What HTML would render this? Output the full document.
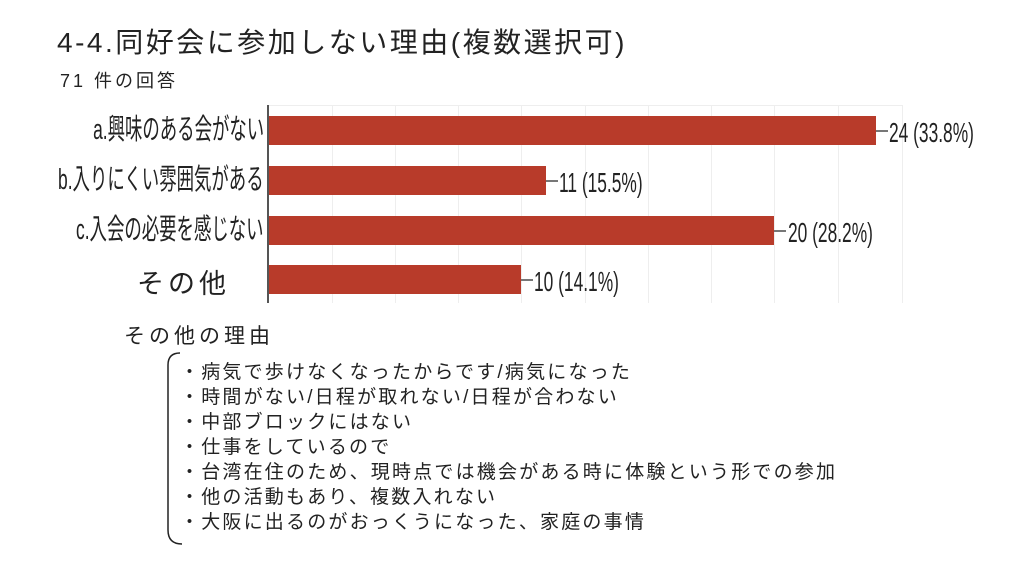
<!DOCTYPE html>
<html><head><meta charset="utf-8"><style>
body{margin:0;width:1024px;height:576px;background:#fff;position:relative;overflow:hidden;font-family:"Liberation Sans","Noto Sans CJK JP",sans-serif;color:#222}
.a{position:absolute;white-space:nowrap}
.bar{position:absolute;background:#b83b2a;height:29px;left:269px}
.lab{position:absolute;right:760px;font-size:29px;transform:scaleX(0.6);transform-origin:right center;white-space:nowrap;line-height:29px;color:#222}
.val{position:absolute;font-size:28px;transform:scaleX(0.62);transform-origin:left center;white-space:nowrap;line-height:29px;color:#222}
.tick{position:absolute;height:2px;width:12px;background:#777}
.g{position:absolute;top:105px;height:198px;width:1px;background:#eee}
.r{position:absolute;left:180px;font-size:19px;line-height:25px;letter-spacing:2.2px}
</style></head><body>
<div class="a" style="left:57px;top:21px;font-size:28px;letter-spacing:2.5px">4-4.同好会に参加しない理由(複数選択可)</div>
<div class="a" style="left:60px;top:67px;font-size:18px;letter-spacing:3px">71 件の回答</div>
<div class="a" style="left:269px;top:105px;width:634px;height:1px;background:#eee"></div>
<div class="g" style="left:332px"></div><div class="g" style="left:395px"></div><div class="g" style="left:458px"></div><div class="g" style="left:521px"></div><div class="g" style="left:585px"></div><div class="g" style="left:648px"></div><div class="g" style="left:711px"></div><div class="g" style="left:774px"></div><div class="g" style="left:838px"></div><div class="g" style="left:902px"></div>
<div class="a" style="left:267px;top:105px;width:2px;height:198px;background:#555"></div>
<div class="bar" style="top:116px;width:607px"></div>
<div class="bar" style="top:166px;width:277px"></div>
<div class="bar" style="top:216px;width:505px"></div>
<div class="bar" style="top:265px;width:252px"></div>
<div class="tick" style="left:876px;top:130px"></div>
<div class="tick" style="left:546px;top:180px"></div>
<div class="tick" style="left:774px;top:230px"></div>
<div class="tick" style="left:521px;top:279px"></div>
<div class="val" style="left:889px;top:118px">24 (33.8%)</div>
<div class="val" style="left:559px;top:168px">11 (15.5%)</div>
<div class="val" style="left:788px;top:218px">20 (28.2%)</div>
<div class="val" style="left:534px;top:267px">10 (14.1%)</div>
<div class="lab" style="top:116px">a.興味のある会がない</div>
<div class="lab" style="top:166px">b.入りにくい雰囲気がある</div>
<div class="lab" style="top:216px">c.入会の必要を感じない</div>
<div class="a" style="left:137px;top:262px;font-size:27px;letter-spacing:4px">その他</div>
<div class="a" style="left:124px;top:320px;font-size:21px;letter-spacing:4px">その他の理由</div>
<svg class="a" style="left:158px;top:350px" width="30" height="200"><path d="M22 3 Q10 3 10 15 L10 180 Q10 194 24 194" fill="none" stroke="#222" stroke-width="1.5"/></svg>
<div class="r" style="top:360px">・病気で歩けなくなったからです/病気になった<br>・時間がない/日程が取れない/日程が合わない<br>・中部ブロックにはない<br>・仕事をしているので<br>・台湾在住のため、現時点では機会がある時に体験という形での参加<br>・他の活動もあり、複数入れない<br>・大阪に出るのがおっくうになった、家庭の事情</div>
</body></html>
